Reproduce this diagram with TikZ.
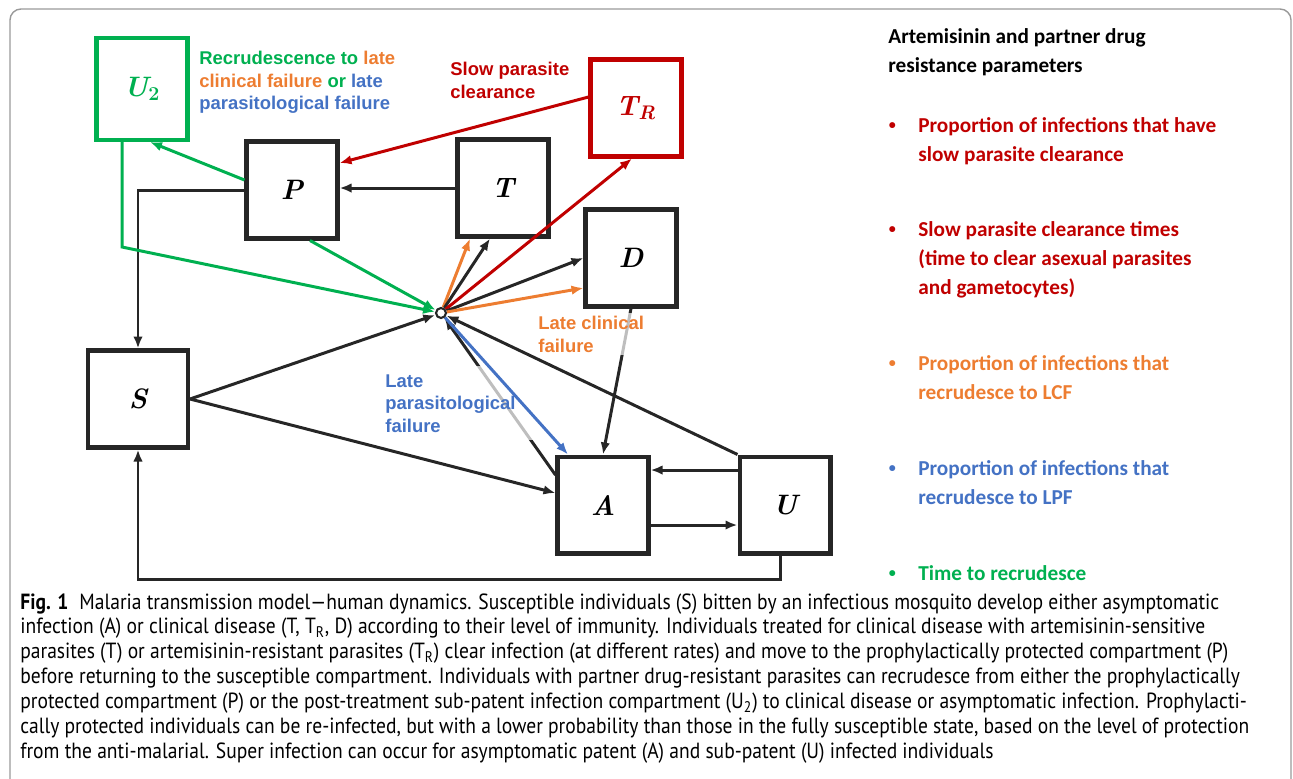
\documentclass[tikz,border=0pt]{standalone}
\usepackage{fontspec}
\newfontfamily\arialfont{Liberation Sans}
\newfontfamily\calfont{Carlito}
\newfontfamily\capfont{PT Sans}[FakeStretch=0.89]
\usetikzlibrary{arrows.meta}

\definecolor{boxgray}{RGB}{38,38,38}
\definecolor{recgreen}{RGB}{0,176,80}
\definecolor{lcforange}{RGB}{237,125,49}
\definecolor{lpfblue}{RGB}{68,114,196}
\definecolor{slowred}{RGB}{192,0,0}
\newcommand{\pbullet}{\llap{\raisebox{0.12em}{\fontsize{8pt}{8pt}\selectfont•}\hspace{0.45cm}}}

\begin{document}
\begin{tikzpicture}[x=0.02cm,y=-0.02cm,
  comp/.style={draw=boxgray, line width=2.3pt, minimum width=1.82cm,
    minimum height=1.94cm, inner sep=0pt,
    font=\fontsize{16pt}{16pt}\selectfont\bfseries\itshape},
  flow/.style={line width=1.7pt, boxgray, -{Latex[length=0.24cm,width=0.19cm]}},
  lbl/.style={font=\arialfont\bfseries\fontsize{10.5pt}{12.8pt}\selectfont,
    align=left, inner sep=0pt, anchor=north west},
  param/.style={font=\calfont\bfseries\fontsize{12.1pt}{16.5pt}\selectfont,
    align=left, inner sep=0pt, anchor=north west}]
\useasboundingbox (0,0) rectangle (1293,778);
\draw[gray!80, line width=0.8pt, rounded corners=0.22cm]
    (10,800) -- (10,9) -- (1291,9) -- (1291,800);

% compartments
\node[comp, draw=recgreen, text=recgreen, minimum height=2.04cm] (U2) at (142,89)
    {U\textsubscript{\upshape 2}};
\node[comp] (P) at (292,190) {P};
\node[comp] (T) at (503,188) {T};
\node[comp, draw=slowred, text=slowred] (TR) at (636,108) {T\textsubscript{R}};
\node[comp] (D) at (631,258) {D};
\node[comp, minimum width=2cm] (S) at (138,399) {S};
\node[comp] (A) at (603,505) {A};
\node[comp] (U) at (785,505) {U};
\node[circle, draw=boxgray, line width=1.2pt, fill=white, minimum size=0.2cm,
    inner sep=0pt] (hub) at (441,313) {};

% flows
\draw[flow, recgreen] ([yshift=0.2cm]P.west) -- ([xshift=0.16cm]U2.south);
\draw[flow] (P.west) -| (S.north);
\draw[flow] (T.west) -- (T.west -| P.east);
\draw[flow, slowred] ([yshift=0.22cm]TR.west) -- ([yshift=0.54cm]P.east);
\draw[flow, recgreen] ([xshift=-0.4cm]U2.south) -- ++(0,105) -- (hub);
\draw[flow, recgreen] ([xshift=0.36cm]P.south) -- (hub);
\draw[flow, lcforange] (hub) -- ([xshift=-0.66cm]T.south);
\draw[flow] (hub) -- ([xshift=-0.26cm]T.south);
\draw[flow, slowred] (hub) -- ([xshift=-0.08cm]TR.south);
\draw[flow] (hub) -- (D.west);
\draw[flow, lcforange] (hub) -- ([yshift=-0.6cm]D.west);
\draw[flow] (S.east) -- (hub);
\draw[flow] (S.east) -- ([yshift=0.24cm]A.west);
\draw[flow] ([yshift=0.6cm]A.west) -- (hub);
\draw[flow] (D.south) -- (A.north);
\draw[flow] (U.north west) -- (hub);
\draw[flow] ([yshift=0.7cm]U.west) -- ([yshift=0.7cm]A.east);
\draw[flow] ([yshift=-0.4cm]A.east) -- ([yshift=-0.4cm]U.west);
\draw[flow] ([xshift=-0.1cm]U.south) -- ++(0,24) -| (S.south);

% labels on the flows
\node[lbl, text=lcforange, fill=white, fill opacity=0.7, text opacity=1,
    inner sep=0.06cm] (lcfl) at (535,313) {Late clinical\\failure};
\node[lbl, text=lpfblue, fill=white, fill opacity=0.7, text opacity=1,
    inner sep=0.16cm, text width=2.9cm] (lpfl) at (377,366)
    {Late\\parasitological\\failure};
\draw[flow, lpfblue] (hub) -- ([xshift=-0.7cm]A.north);
\node[lbl, text=recgreen] (recl) at (199,51) {Recrudescence to
    {\color{lcforange}late}\\{\color{lcforange}clinical failure} or
    {\color{lpfblue}late}\\{\color{lpfblue}parasitological failure}};
\node[lbl, text=slowred] (slowl) at (450,62) {Slow parasite\\clearance};

% resistance parameters
\node[param, text=black] (head) at (888,28)
    {Artemisinin and partner drug\\resistance parameters};
\node[param, text=slowred] (par1) at (918,117)
    {\pbullet Proportion of infections that have\\slow parasite clearance};
\node[param, text=slowred] (par2) at (918,221)
    {\pbullet Slow parasite clearance times\\(time to clear asexual parasites\\and gametocytes)};
\node[param, text=lcforange] (par3) at (918,355)
    {\pbullet Proportion of infections that\\recrudesce to LCF};
\node[param, text=lpfblue] (par4) at (918,460)
    {\pbullet Proportion of infections that\\recrudesce to LPF};
\node[param, text=recgreen] (par5) at (918,565)
    {\pbullet Time to recrudesce};

% caption
\node[anchor=north west, inner sep=0pt, align=left,
    font=\capfont\fontsize{12.5pt}{14.2pt}\selectfont] (cap) at (20,593)
{\textbf{Fig. 1}\enspace Malaria transmission model—human dynamics. Susceptible individuals (S) bitten by an infectious mosquito develop either asymptomatic\\
infection (A) or clinical disease (T, T\textsubscript{R}, D) according to their level of immunity. Individuals treated for clinical disease with artemisinin-sensitive\\
parasites (T) or artemisinin-resistant parasites (T\textsubscript{R}) clear infection (at different rates) and move to the prophylactically protected compartment (P)\\
before returning to the susceptible compartment. Individuals with partner drug-resistant parasites can recrudesce from either the prophylactically\\
protected compartment (P) or the post-treatment sub-patent infection compartment (U\textsubscript{2}) to clinical disease or asymptomatic infection. Prophylacti-\\
cally protected individuals can be re-infected, but with a lower probability than those in the fully susceptible state, based on the level of protection\\
from the anti-malarial. Super infection can occur for asymptomatic patent (A) and sub-patent (U) infected individuals};
\end{tikzpicture}
\end{document}
